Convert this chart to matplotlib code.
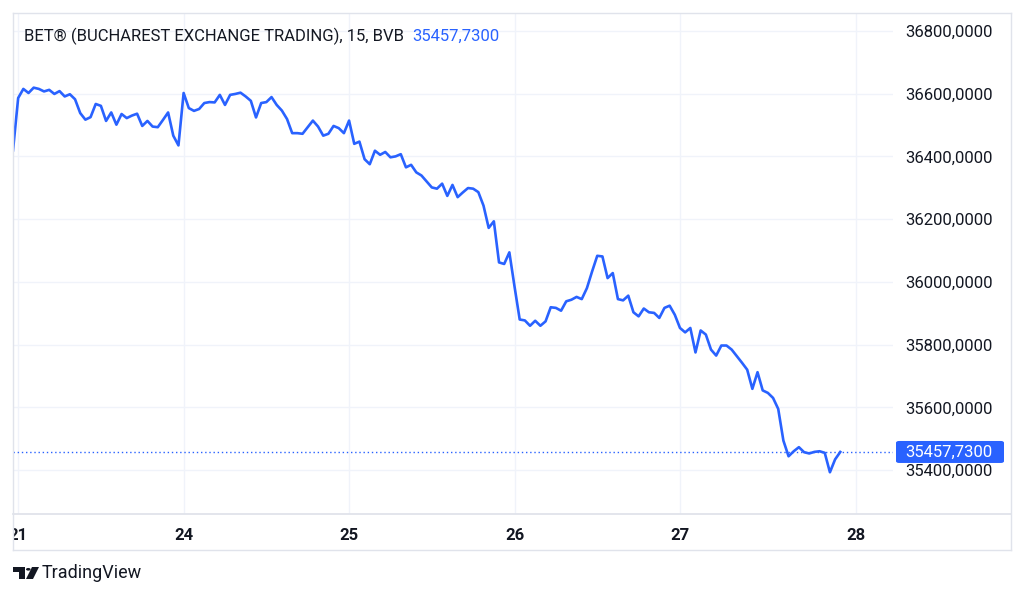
import matplotlib
matplotlib.use("Agg")
import matplotlib.pyplot as plt
from matplotlib.lines import Line2D
from matplotlib.patches import FancyBboxPatch, Polygon, Circle
import matplotlib.transforms as mtransforms

plt.rcParams['font.family'] = ['Roboto', 'DejaVu Sans']

# ---- data ----
title_text = "BET® (BUCHAREST EXCHANGE TRADING), 15, BVB"
last_value_text = "35457,7300"
day_labels = ["21", "24", "25", "26", "27", "28"]
price_ticks = [35400, 35600, 35800, 36000, 36200, 36400, 36600, 36800]

prev_close = [36419]
day21 = [36586, 36615, 36602, 36619, 36615, 36607, 36612, 36599, 36608, 36591,
         36598, 36582, 36538, 36517, 36525, 36567, 36561, 36513, 36540, 36501,
         36535, 36522, 36530, 36536, 36497, 36513, 36495, 36493, 36516, 36540,
         36466, 36435]
day24 = [36602, 36554, 36545, 36551, 36570, 36573, 36572, 36596, 36564, 36596,
         36599, 36603, 36591, 36577, 36524, 36570, 36573, 36589, 36564, 36546,
         36519, 36474, 36474, 36472, 36493, 36514, 36495, 36466, 36472, 36497,
         36490, 36474]
day25 = [36514, 36440, 36447, 36391, 36375, 36418, 36405, 36414, 36397, 36400,
         36407, 36365, 36373, 36349, 36339, 36320, 36301, 36297, 36313, 36274,
         36309, 36270, 36285, 36299, 36297, 36286, 36243, 36172, 36193, 36062,
         36057, 36094]
day26 = [35985, 35880, 35877, 35860, 35876, 35860, 35874, 35919, 35917, 35908,
         35938, 35943, 35952, 35945, 35980, 36033, 36083, 36081, 36012, 36028,
         35945, 35941, 35956, 35903, 35890, 35915, 35903, 35901, 35885, 35917,
         35924, 35895]
day27 = [35853, 35839, 35853, 35775, 35845, 35832, 35784, 35765, 35797, 35797,
         35784, 35763, 35742, 35720, 35659, 35712, 35654, 35646, 35630, 35595,
         35494, 35444, 35460, 35473, 35457, 35453, 35458, 35460, 35455, 35393,
         35434, 35457.73]

values = prev_close + day21 + day24 + day25 + day26 + day27
bars_per_day = len(day21)
x = list(range(len(values)))
last_value = values[-1]

BLUE = "#2962ff"
TEXT = "#131722"
GRID = "#f0f3fa"
BORDER = "#e0e3eb"

W, H = 1024, 596
fig = plt.figure(figsize=(W / 100, H / 100), dpi=100)
fig.patch.set_facecolor("white")

def fx(px):
    return px / W

def fy(py):
    return 1 - py / H

# main plot area
L, R, T, B = 13, 893, 13, 514
ax = fig.add_axes([fx(L), fy(B), fx(R - L), fy(T) - fy(B)])
ax.plot(x, values, color=BLUE, lw=1.9, solid_joinstyle="round", zorder=3)

ax.set_ylim(35260, 36857)
ax.set_xlim(0, 170.2)

tick_pos = [1 + bars_per_day * k for k in range(5)] + [163]
ax.set_xticks(tick_pos)
ax.set_xticklabels(day_labels)
ax.set_yticks(price_ticks)
ax.set_yticklabels([f"{v},0000" for v in price_ticks])
ax.yaxis.tick_right()
ax.tick_params(axis="y", length=0, pad=9, labelsize=12, labelcolor=TEXT)
ax.tick_params(axis="x", length=0, pad=10, labelsize=12, labelcolor=TEXT)
clip_rect = mtransforms.TransformedBbox(
    mtransforms.Bbox.from_extents(fx(L), 0, fx(1011), 1), fig.transFigure)
for lab in ax.get_xticklabels():
    lab.set_fontweight("semibold")
    lab.set_clip_box(clip_rect)
    lab.set_clip_on(True)
ax.grid(True, color=GRID, lw=1)
ax.set_axisbelow(True)
for s in ax.spines.values():
    s.set_visible(False)

# last price dotted line and label
ax.axhline(last_value, color=BLUE, lw=1, ls=(0, (1, 2)), zorder=2)
box_cy = ax.transData.transform((0, last_value))[1]
box_cy_px = H - box_cy
fig.add_artist(FancyBboxPatch((fx(896), fy(box_cy_px + 11)), fx(108), fy(box_cy_px - 11) - fy(box_cy_px + 11),
                              boxstyle="round,pad=0,rounding_size=0.003",
                              fc=BLUE, ec="none", transform=fig.transFigure))
fig.text(fx(905), fy(box_cy_px), last_value_text, ha="left", va="center",
         color="white", fontsize=12)

# title
ax.text(11 / (R - L), 0.954, title_text, transform=ax.transAxes,
        ha="left", va="center", fontsize=12, color=TEXT)
ax.text(399 / (R - L), 0.954, last_value_text, transform=ax.transAxes,
        ha="left", va="center", fontsize=12, color=BLUE)

# frame lines
def hline(py, x0, x1, c=BORDER, lw=1):
    fig.add_artist(Line2D([fx(x0), fx(x1)], [fy(py), fy(py)], color=c, lw=lw))

def vline(px, y0, y1, c=BORDER, lw=1):
    fig.add_artist(Line2D([fx(px), fx(px)], [fy(y0), fy(y1)], color=c, lw=lw))

hline(13, 13, 1011)
hline(514, 13, 1011, lw=1.3)
hline(550, 13, 1011)
vline(13, 13, 550)
vline(1011, 13, 550)

# TradingView logo mark
def poly(pts):
    fig.add_artist(Polygon([(fx(a), fy(b)) for a, b in pts], closed=True,
                           fc=TEXT, ec="none", transform=fig.transFigure))

poly([(13, 567), (25, 567), (25, 579), (19, 579), (19, 571.5), (13, 571.5)])
fig.add_artist(Circle((fx(28.3), fy(569.3)), fx(2.3), fc=TEXT, ec="none",
                      transform=fig.transFigure))
poly([(32, 567), (39, 567), (33, 579), (26, 579)])
fig.text(fx(42), fy(573.5), "TradingView", fontsize=13, color=TEXT,
         ha="left", va="center")

fig.savefig("out.png", dpi=100, facecolor="white")
